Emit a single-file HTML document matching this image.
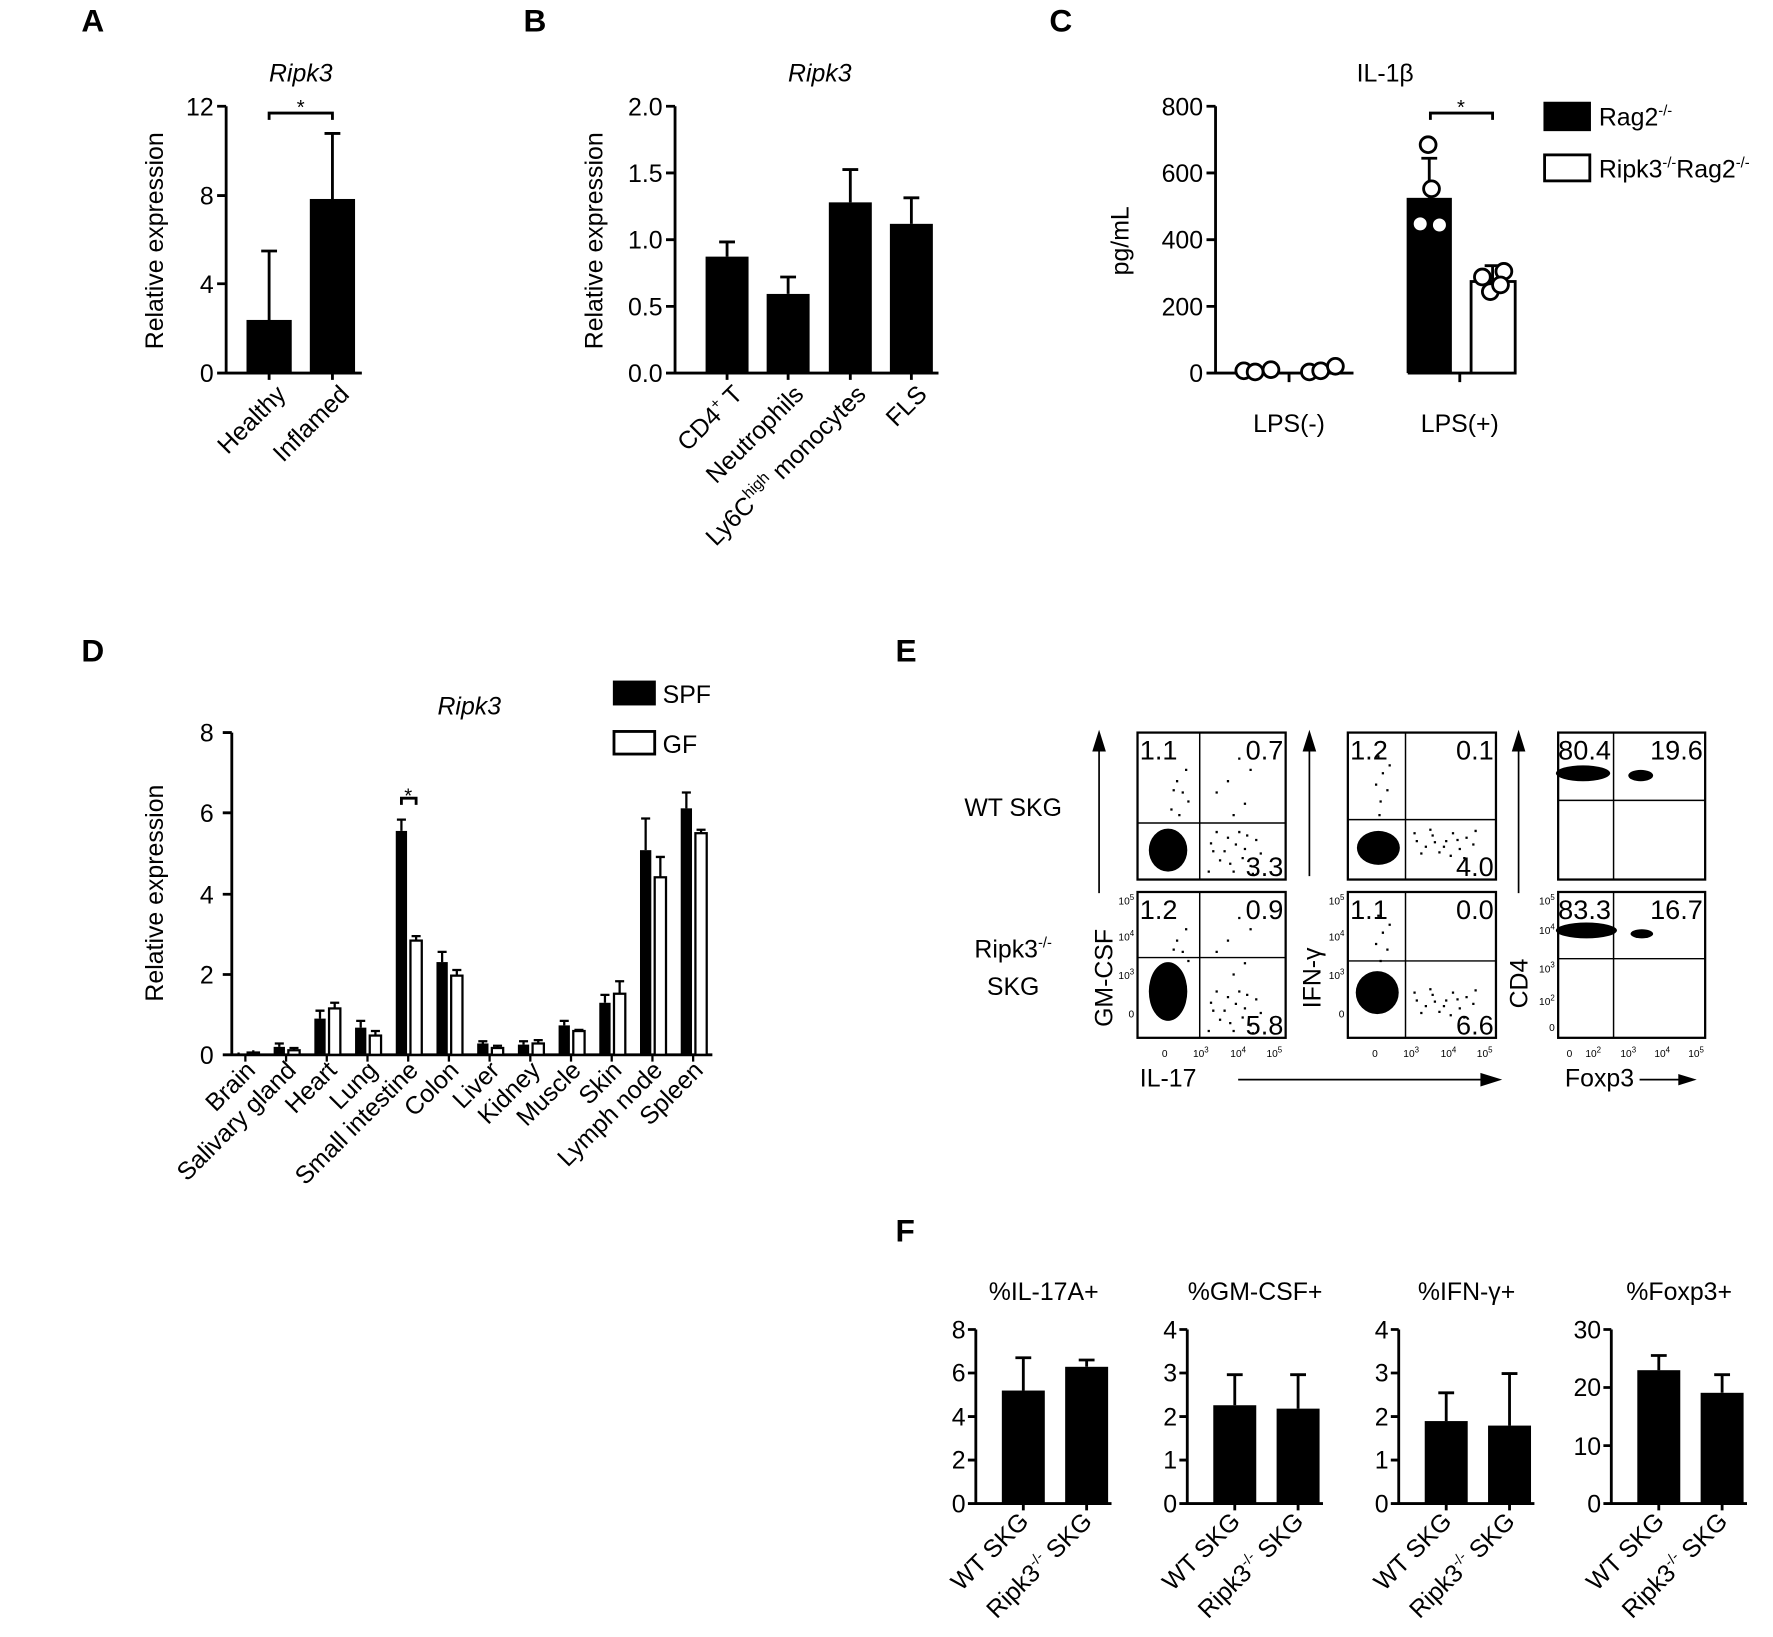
<!DOCTYPE html>
<html><head><meta charset="utf-8"><style>
html,body{margin:0;padding:0;background:#fff}
svg{display:block}
text{font-family:"Liberation Sans",Arial,sans-serif;fill:#000}
</style></head><body>
<svg width="1773" height="1637" viewBox="0 0 1568 1448" preserveAspectRatio="none" xmlns="http://www.w3.org/2000/svg">
<defs>
<path id="scA" d="M64 97h2v2h-2zM72 112h2v2h-2zM79 92h2v2h-2zM84 122h2v2h-2zM94 102h2v2h-2zM89 87h2v2h-2zM99 117h2v2h-2zM104 94h2v2h-2zM62 122h2v2h-2zM76 104h2v2h-2zM92 110h2v2h-2zM69 87h2v2h-2zM108 106h2v2h-2zM86 98h2v2h-2zM66 104h2v2h-2zM81 115h2v2h-2zM96 90h2v2h-2zM101 124h2v2h-2zM34 42h2v2h-2zM39 52h2v2h-2zM29 67h2v2h-2zM42 32h2v2h-2zM36 72h2v2h-2zM44 60h2v2h-2zM31 50h2v2h-2zM69 52h2v2h-2zM79 42h2v2h-2zM89 22h2v2h-2zM94 62h2v2h-2zM84 72h2v2h-2zM99 32h2v2h-2z"/>
<path id="scB" d="M60 95h2v2h-2zM68 100h2v2h-2zM74 90h2v2h-2zM80 105h2v2h-2zM86 95h2v2h-2zM92 88h2v2h-2zM98 102h2v2h-2zM104 92h2v2h-2zM110 98h2v2h-2zM64 106h2v2h-2zM72 85h2v2h-2zM84 100h2v2h-2zM96 94h2v2h-2zM102 110h2v2h-2zM90 108h2v2h-2zM76 96h2v2h-2zM58 88h2v2h-2zM112 86h2v2h-2zM26 20h2v2h-2zM30 35h2v2h-2zM24 45h2v2h-2zM34 50h2v2h-2zM28 60h2v2h-2zM36 28h2v2h-2zM27 72h2v2h-2z"/>
</defs>
<g font-weight="bold" font-size="28">
<text x="72" y="28">A</text><text x="463" y="28">B</text><text x="928" y="28">C</text>
<text x="72" y="585">D</text><text x="792" y="585">E</text><text x="792" y="1098">F</text>
</g>
<g stroke="#000" stroke-width="2.5" fill="none">
<path d="M200 94V330H320M192 94H200M192 173H200M192 251H200M192 330H200M238 330v6M294 330v6"/>
<path d="M238 283V222M231 222h14M294 176V118M287 118h14M238 106V100H294V106"/>
<path d="M597 94V330H830M589 94H597M589 153H597M589 212H597M589 271H597M589 330H597M643 330v6M697 330v6M752 330v6M806 330v6"/>
<path d="M643 227V214M636 214h14M697 260V245M690 245h14M752 179V150M745 150h14M806 198V175M799 175h14"/>
<path d="M1075 94V330H1197M1245 330H1340M1067 94H1075M1067 153H1075M1067 212H1075M1067 271H1075M1067 330H1075M1140 330v8M1291 330v8"/>
<path d="M1264 175V140M1257 140h14M1320 249V235M1313 235h14M1265 106V100H1320V106"/>
<path d="M205 648V933H630M197 648H205M197 719H205M197 791H205M197 862H205M197 933H205"/>
<path d="M355 712v-6h13v6"/>
</g>
<g fill="#000">
<rect x="218" y="283" width="40" height="47"/><rect x="274" y="176" width="40" height="154"/>
<rect x="624" y="227" width="38" height="103"/><rect x="678" y="260" width="38" height="70"/><rect x="733" y="179" width="38" height="151"/><rect x="787" y="198" width="38" height="132"/>
<rect x="1244" y="175" width="40" height="155"/>
</g>
<rect x="1301" y="249" width="39" height="81" fill="#fff" stroke="#000" stroke-width="2.5"/>
<g fill="#fff" stroke="#000" stroke-width="2.5">
<circle cx="1100" cy="328" r="7"/><circle cx="1110" cy="329" r="7"/><circle cx="1124" cy="327" r="7"/>
<circle cx="1158" cy="329" r="7"/><circle cx="1168" cy="328" r="7"/><circle cx="1181" cy="324" r="7"/>
<circle cx="1263" cy="128" r="7"/><circle cx="1266" cy="167" r="7"/><circle cx="1256" cy="198" r="7"/><circle cx="1273" cy="199" r="7"/>
<circle cx="1311" cy="245" r="7"/><circle cx="1330" cy="240" r="7"/><circle cx="1318" cy="258" r="7"/><circle cx="1327" cy="252" r="7"/>
</g>
<g font-size="22">
<text x="266" y="72" text-anchor="middle" font-style="italic">Ripk3</text>
<text x="266" y="101" text-anchor="middle" font-size="18">*</text>
<g text-anchor="end"><text x="189" y="102">12</text><text x="189" y="181">8</text><text x="189" y="259">4</text><text x="189" y="338">0</text></g>
<text transform="translate(144,213) rotate(-90)" text-anchor="middle">Relative  expression</text>
<text transform="translate(254,350) rotate(-45)" text-anchor="end">Healthy</text>
<text transform="translate(310,350) rotate(-45)" text-anchor="end">Inflamed</text>
<text x="725" y="72" text-anchor="middle" font-style="italic">Ripk3</text>
<g text-anchor="end"><text x="586" y="102">2.0</text><text x="586" y="161">1.5</text><text x="586" y="220">1.0</text><text x="586" y="279">0.5</text><text x="586" y="338">0.0</text></g>
<text transform="translate(533,213) rotate(-90)" text-anchor="middle">Relative  expression</text>
<text transform="translate(658,350) rotate(-45)" text-anchor="end">CD4<tspan font-size="13" dy="-9">+</tspan><tspan dy="9"> T</tspan></text>
<text transform="translate(712,350) rotate(-45)" text-anchor="end">Neutrophils</text>
<text transform="translate(767,350) rotate(-45)" text-anchor="end">Ly6C<tspan font-size="14" dy="-9">high</tspan><tspan dy="9"> monocytes</tspan></text>
<text transform="translate(821,350) rotate(-45)" text-anchor="end">FLS</text>
<text x="1225" y="72" text-anchor="middle">IL-1β</text>
<text x="1292" y="101" text-anchor="middle" font-size="18">*</text>
<g text-anchor="end"><text x="1064" y="102">800</text><text x="1064" y="161">600</text><text x="1064" y="220">400</text><text x="1064" y="279">200</text><text x="1064" y="338">0</text></g>
<text transform="translate(998,213) rotate(-90)" text-anchor="middle">pg/mL</text>
<text x="1140" y="382" text-anchor="middle">LPS(-)</text><text x="1291" y="382" text-anchor="middle">LPS(+)</text>
<rect x="1365" y="90" width="42" height="26" fill="#000"/>
<rect x="1366" y="137" width="40" height="23" fill="#fff" stroke="#000" stroke-width="2.5"/>
<text x="1414" y="111">Rag2<tspan font-size="13" dy="-9">-/-</tspan></text>
<text x="1414" y="157">Ripk3<tspan font-size="13" dy="-9">-/-</tspan><tspan dy="9">Rag2</tspan><tspan font-size="13" dy="-9">-/-</tspan></text>
<text x="415" y="632" text-anchor="middle" font-style="italic">Ripk3</text>
<text x="361" y="710" text-anchor="middle" font-size="18">*</text>
<g text-anchor="end"><text x="189" y="656">8</text><text x="189" y="727">6</text><text x="189" y="799">4</text><text x="189" y="870">2</text><text x="189" y="941">0</text></g>
<text transform="translate(144,790) rotate(-90)" text-anchor="middle">Relative  expression</text>
<rect x="542" y="602" width="38" height="22" fill="#000"/>
<rect x="543" y="647" width="36" height="20" fill="#fff" stroke="#000" stroke-width="2.5"/>
<text x="586" y="622">SPF</text><text x="586" y="666">GF</text>
<text x="896" y="722" text-anchor="middle">WT SKG</text>
<text x="896" y="847" text-anchor="middle">Ripk3<tspan font-size="13" dy="-9">-/-</tspan></text>
<text x="896" y="880" text-anchor="middle">SKG</text>
<text transform="translate(984,865) rotate(-90)" text-anchor="middle">GM-CSF</text>
<text transform="translate(1168,865) rotate(-90)" text-anchor="middle">IFN-γ</text>
<text transform="translate(1351,870) rotate(-90)" text-anchor="middle">CD4</text>
<text x="1008" y="961">IL-17</text>
<text x="1384" y="961">Foxp3</text>
</g>
<!-- D bars -->
<g stroke="#000" stroke-width="2" fill="none">
<path d="M211 932V931M224 931V929M247 926V923M243 923h8M260 929V927M256 927h8M283 901V894M279 894h8M296 892V887M292 887h8M319 909V903M315 903h8M332 916V912M328 912h8M355 735V725M351 725h8M368 832V828M364 828h8M391 851V842M387 842h8M404 863V858M400 858h8M427 923V921M423 921h8M440 927V925M436 925h8M463 924V921M459 921h8M476 923V920M472 920h8M499 907V903M495 903h8M512 912V911M508 911h8M535 887V880M531 880h8M548 879V868M544 868h8M571 752V724M567 724h8M584 776V758M580 758h8M607 715V701M603 701h8M620 737V734M616 734h8"/>
<path d="M217 933v6M253 933v6M289 933v6M325 933v6M361 933v6M397 933v6M433 933v6M469 933v6M505 933v6M541 933v6M577 933v6M613 933v6"/>
</g>
<g fill="#000">
<rect x="206" y="932" width="10" height="1"/><rect x="242" y="926" width="10" height="7"/><rect x="278" y="901" width="10" height="32"/><rect x="314" y="909" width="10" height="24"/><rect x="350" y="735" width="10" height="198"/><rect x="386" y="851" width="10" height="82"/><rect x="422" y="923" width="10" height="10"/><rect x="458" y="924" width="10" height="9"/><rect x="494" y="907" width="10" height="26"/><rect x="530" y="887" width="10" height="46"/><rect x="566" y="752" width="10" height="181"/><rect x="602" y="715" width="10" height="218"/>
</g>
<g fill="#fff" stroke="#000" stroke-width="2">
<rect x="219" y="931" width="10" height="2"/><rect x="255" y="929" width="10" height="4"/><rect x="291" y="892" width="10" height="41"/><rect x="327" y="916" width="10" height="17"/><rect x="363" y="832" width="10" height="101"/><rect x="399" y="863" width="10" height="70"/><rect x="435" y="927" width="10" height="6"/><rect x="471" y="923" width="10" height="10"/><rect x="507" y="912" width="10" height="21"/><rect x="543" y="879" width="10" height="54"/><rect x="579" y="776" width="10" height="157"/><rect x="615" y="737" width="10" height="196"/>
</g>
<g font-size="22" text-anchor="end">
<text transform="translate(227,948) rotate(-45)">Brain</text>
<text transform="translate(263,948) rotate(-45)">Salivary gland</text>
<text transform="translate(299,948) rotate(-45)">Heart</text>
<text transform="translate(335,948) rotate(-45)">Lung</text>
<text transform="translate(371,948) rotate(-45)">Small intestine</text>
<text transform="translate(407,948) rotate(-45)">Colon</text>
<text transform="translate(443,948) rotate(-45)">Liver</text>
<text transform="translate(479,948) rotate(-45)">Kidney</text>
<text transform="translate(515,948) rotate(-45)">Muscle</text>
<text transform="translate(551,948) rotate(-45)">Skin</text>
<text transform="translate(587,948) rotate(-45)">Lymph node</text>
<text transform="translate(623,948) rotate(-45)">Spleen</text>
</g>
<!-- Flow plots -->
<g fill="#000">
<ellipse cx="1033" cy="752" rx="17" ry="19"/><ellipse cx="1033" cy="877" rx="17" ry="26"/>
<ellipse cx="1219" cy="750" rx="19" ry="15"/><ellipse cx="1218" cy="878" rx="19" ry="19"/>
<ellipse cx="1400" cy="684" rx="24" ry="7"/><ellipse cx="1451" cy="686" rx="11" ry="5"/>
<ellipse cx="1403" cy="823" rx="27" ry="7"/><ellipse cx="1452" cy="826" rx="10" ry="4"/>
<use href="#scA" x="1006" y="648"/><use href="#scA" x="1006" y="789"/>
<use href="#scB" x="1192" y="648"/><use href="#scB" x="1192" y="789"/>
</g>
<g fill="none" stroke="#000">
<g stroke-width="2"><rect x="1006" y="648" width="131" height="130"/><rect x="1006" y="789" width="131" height="129"/>
<rect x="1192" y="648" width="131" height="130"/><rect x="1192" y="789" width="131" height="129"/>
<rect x="1378" y="648" width="130" height="130"/><rect x="1378" y="789" width="130" height="129"/></g>
<path stroke-width="1.3" d="M1061 648V778M1006 728H1137M1061 789V918M1006 847H1137M1243 648V778M1192 725H1323M1243 789V918M1192 850H1323M1427 648V778M1378 708H1508M1427 789V918M1378 848H1508"/>
</g>
<g font-size="24">
<text x="1008" y="672">1.1</text><text x="1135" y="672" text-anchor="end">0.7</text><text x="1135" y="775" text-anchor="end">3.3</text>
<text x="1008" y="813">1.2</text><text x="1135" y="813" text-anchor="end">0.9</text><text x="1135" y="915" text-anchor="end">5.8</text>
<text x="1194" y="672">1.2</text><text x="1321" y="672" text-anchor="end">0.1</text><text x="1321" y="775" text-anchor="end">4.0</text>
<text x="1194" y="813">1.1</text><text x="1321" y="813" text-anchor="end">0.0</text><text x="1321" y="915" text-anchor="end">6.6</text>
<text x="1378" y="672">80.4</text><text x="1506" y="672" text-anchor="end">19.6</text>
<text x="1378" y="813">83.3</text><text x="1506" y="813" text-anchor="end">16.7</text>
</g>
<g font-size="9" text-anchor="end">
<text x="1003" y="800">10<tspan dy="-4" font-size="7">5</tspan></text><text x="1003" y="832">10<tspan dy="-4" font-size="7">4</tspan></text><text x="1003" y="866">10<tspan dy="-4" font-size="7">3</tspan></text><text x="1003" y="900">0</text>
<text x="1189" y="800">10<tspan dy="-4" font-size="7">5</tspan></text><text x="1189" y="832">10<tspan dy="-4" font-size="7">4</tspan></text><text x="1189" y="866">10<tspan dy="-4" font-size="7">3</tspan></text><text x="1189" y="900">0</text>
<text x="1375" y="800">10<tspan dy="-4" font-size="7">5</tspan></text><text x="1375" y="826">10<tspan dy="-4" font-size="7">4</tspan></text><text x="1375" y="860">10<tspan dy="-4" font-size="7">3</tspan></text><text x="1375" y="889">10<tspan dy="-4" font-size="7">2</tspan></text><text x="1375" y="912">0</text>
</g>
<g font-size="9" text-anchor="middle">
<text x="1030" y="935">0</text><text x="1062" y="935">10<tspan dy="-4" font-size="7">3</tspan></text><text x="1095" y="935">10<tspan dy="-4" font-size="7">4</tspan></text><text x="1127" y="935">10<tspan dy="-4" font-size="7">5</tspan></text>
<text x="1216" y="935">0</text><text x="1248" y="935">10<tspan dy="-4" font-size="7">3</tspan></text><text x="1281" y="935">10<tspan dy="-4" font-size="7">4</tspan></text><text x="1313" y="935">10<tspan dy="-4" font-size="7">5</tspan></text>
<text x="1388" y="935">0</text><text x="1409" y="935">10<tspan dy="-4" font-size="7">2</tspan></text><text x="1440" y="935">10<tspan dy="-4" font-size="7">3</tspan></text><text x="1470" y="935">10<tspan dy="-4" font-size="7">4</tspan></text><text x="1500" y="935">10<tspan dy="-4" font-size="7">5</tspan></text>
</g>
<g stroke="#000" stroke-width="1.5" fill="#000">
<path d="M972 790V652"/><path d="M967 664L972 648L977 664Z"/>
<path d="M1158 775V652"/><path d="M1153 664L1158 648L1163 664Z"/>
<path d="M1343 790V652"/><path d="M1338 664L1343 648L1348 664Z"/>
<path d="M1095 955H1310"/><path d="M1310 950L1326 955L1310 960Z"/>
<path d="M1450 955H1485"/><path d="M1485 951L1498 955L1485 959Z"/>
</g>
<!-- F -->
<g fill="#000">
<rect x="886" y="1230" width="38" height="100"/><rect x="942" y="1209" width="38" height="121"/>
<rect x="1073" y="1243" width="38" height="87"/><rect x="1129" y="1246" width="38" height="84"/>
<rect x="1260" y="1257" width="38" height="73"/><rect x="1316" y="1261" width="38" height="69"/>
<rect x="1448" y="1212" width="38" height="118"/><rect x="1504" y="1232" width="38" height="98"/>
</g>
<g stroke="#000" stroke-width="2.5" fill="none">
<path d="M863 1176V1330H983M856 1330H863M856 1291.5H863M856 1253H863M856 1214.5H863M856 1176H863M905 1230V1201M898 1201h14M961 1209V1203M954 1203h14M905 1330v6M961 1330v6"/>
<path d="M1050 1176V1330H1170M1043 1330H1050M1043 1291.5H1050M1043 1253H1050M1043 1214.5H1050M1043 1176H1050M1092 1243V1216M1085 1216h14M1148 1246V1216M1141 1216h14M1092 1330v6M1148 1330v6"/>
<path d="M1237 1176V1330H1357M1230 1330H1237M1230 1291.5H1237M1230 1253H1237M1230 1214.5H1237M1230 1176H1237M1279 1257V1232M1272 1232h14M1335 1261V1215M1328 1215h14M1279 1330v6M1335 1330v6"/>
<path d="M1425 1176V1330H1545M1418 1330H1425M1418 1278.7H1425M1418 1227.3H1425M1418 1176H1425M1467 1212V1199M1460 1199h14M1523 1232V1216M1516 1216h14M1467 1330v6M1523 1330v6"/>
</g>
<g font-size="22" text-anchor="end">
<text x="854" y="1338">0</text><text x="854" y="1299">2</text><text x="854" y="1261">4</text><text x="854" y="1222">6</text><text x="854" y="1184">8</text>
<text x="1041" y="1338">0</text><text x="1041" y="1299">1</text><text x="1041" y="1261">2</text><text x="1041" y="1222">3</text><text x="1041" y="1184">4</text>
<text x="1228" y="1338">0</text><text x="1228" y="1299">1</text><text x="1228" y="1261">2</text><text x="1228" y="1222">3</text><text x="1228" y="1184">4</text>
<text x="1416" y="1338">0</text><text x="1416" y="1287">10</text><text x="1416" y="1235">20</text><text x="1416" y="1184">30</text>
<text transform="translate(911,1347) rotate(-45)">WT SKG</text>
<text transform="translate(967,1347) rotate(-45)">Ripk3<tspan font-size="13" dy="-9">-/-</tspan><tspan dy="9"> SKG</tspan></text>
<text transform="translate(1098,1347) rotate(-45)">WT SKG</text>
<text transform="translate(1154,1347) rotate(-45)">Ripk3<tspan font-size="13" dy="-9">-/-</tspan><tspan dy="9"> SKG</tspan></text>
<text transform="translate(1285,1347) rotate(-45)">WT SKG</text>
<text transform="translate(1341,1347) rotate(-45)">Ripk3<tspan font-size="13" dy="-9">-/-</tspan><tspan dy="9"> SKG</tspan></text>
<text transform="translate(1473,1347) rotate(-45)">WT SKG</text>
<text transform="translate(1529,1347) rotate(-45)">Ripk3<tspan font-size="13" dy="-9">-/-</tspan><tspan dy="9"> SKG</tspan></text>
</g>
<g font-size="22" text-anchor="middle">
<text x="923" y="1150">%IL-17A+</text><text x="1110" y="1150">%GM-CSF+</text><text x="1297" y="1150">%IFN-γ+</text><text x="1485" y="1150">%Foxp3+</text>
</g>
</svg>
</body></html>
